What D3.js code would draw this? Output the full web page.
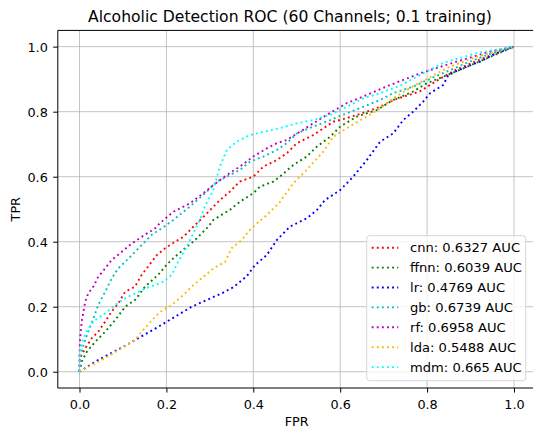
<!DOCTYPE html>
<html><head><meta charset="utf-8">
<script src="https://cdn.jsdelivr.net/npm/d3@7"></script>
<style>body{margin:0;background:#fff}svg{display:block;font-family:"DejaVu Sans",sans-serif}</style>
</head><body><svg id="c" width="533" height="430"></svg>
<script>
const title = "Alcoholic Detection ROC (60 Channels; 0.1 training)";
const ticks = [0.0, 0.2, 0.4, 0.6, 0.8, 1.0];
const names = ["cnn", "ffnn", "lr", "gb", "rf", "lda", "mdm"];
const aucs = ["0.6327", "0.6039", "0.4769", "0.6739", "0.6958", "0.5488", "0.665"];
const colors = ["#ff0000", "#008000", "#0000ff", "#00bfbf", "#bf00bf", "#ffb800", "#00ffff"];

const cnn = [[0,0],[0.001,0.041],[0.013,0.072],[0.028,0.103],[0.043,0.123],[0.059,0.154],[0.074,0.185],[0.089,0.21],[0.105,0.246],[0.128,0.262],[0.143,0.298],[0.166,0.338],[0.178,0.359],[0.197,0.38],[0.22,0.4],[0.239,0.415],[0.262,0.446],[0.293,0.487],[0.323,0.528],[0.346,0.554],[0.369,0.585],[0.4,0.6],[0.423,0.631],[0.454,0.651],[0.477,0.672],[0.5,0.703],[0.538,0.728],[0.584,0.769],[0.615,0.78],[0.661,0.8],[0.692,0.815],[0.722,0.836],[0.783,0.862],[0.822,0.895],[0.868,0.93],[0.93,0.965],[1,1]];
const ffnn = [[0,0],[0.005,0.031],[0.017,0.062],[0.036,0.092],[0.059,0.123],[0.082,0.159],[0.105,0.2],[0.128,0.221],[0.151,0.262],[0.181,0.298],[0.201,0.33],[0.22,0.354],[0.243,0.38],[0.266,0.405],[0.296,0.446],[0.308,0.467],[0.346,0.498],[0.369,0.523],[0.4,0.549],[0.415,0.569],[0.446,0.585],[0.461,0.6],[0.492,0.636],[0.523,0.662],[0.546,0.692],[0.577,0.723],[0.6,0.754],[0.638,0.785],[0.684,0.805],[0.722,0.836],[0.768,0.862],[0.799,0.887],[0.86,0.92],[0.93,0.96],[1,1]];
const lr = [[0,0],[0.036,0.031],[0.105,0.08],[0.181,0.138],[0.258,0.2],[0.327,0.241],[0.354,0.26],[0.385,0.294],[0.404,0.328],[0.431,0.359],[0.454,0.405],[0.484,0.446],[0.523,0.472],[0.546,0.497],[0.565,0.528],[0.6,0.559],[0.63,0.6],[0.661,0.651],[0.692,0.708],[0.722,0.733],[0.745,0.774],[0.768,0.8],[0.791,0.831],[0.807,0.857],[0.837,0.882],[0.849,0.913],[0.883,0.934],[0.922,0.954],[0.96,0.98],[1,1]];
const gb = [[0,0],[0.001,0.04],[0.009,0.082],[0.02,0.123],[0.032,0.164],[0.043,0.205],[0.059,0.246],[0.074,0.287],[0.089,0.318],[0.105,0.338],[0.128,0.369],[0.143,0.39],[0.166,0.421],[0.189,0.441],[0.216,0.467],[0.254,0.508],[0.293,0.554],[0.316,0.585],[0.346,0.605],[0.369,0.621],[0.392,0.646],[0.423,0.662],[0.454,0.682],[0.477,0.703],[0.5,0.733],[0.538,0.754],[0.577,0.774],[0.615,0.795],[0.653,0.815],[0.692,0.836],[0.722,0.857],[0.768,0.877],[0.83,0.915],[0.9,0.955],[0.95,0.98],[1,1]];
const rf = [[0,0],[0,0.02],[0,0.05],[0.001,0.097],[0.005,0.154],[0.009,0.185],[0.013,0.215],[0.02,0.241],[0.032,0.262],[0.043,0.292],[0.059,0.318],[0.074,0.344],[0.093,0.364],[0.116,0.39],[0.143,0.415],[0.174,0.441],[0.185,0.457],[0.216,0.492],[0.254,0.518],[0.285,0.549],[0.308,0.574],[0.339,0.605],[0.369,0.631],[0.4,0.662],[0.431,0.687],[0.454,0.703],[0.477,0.713],[0.507,0.738],[0.569,0.79],[0.615,0.826],[0.661,0.851],[0.715,0.882],[0.784,0.918],[0.868,0.954],[0.945,0.985],[1,1]];
const lda = [[0,0],[0.02,0.015],[0.051,0.036],[0.097,0.072],[0.128,0.098],[0.143,0.123],[0.174,0.169],[0.189,0.187],[0.212,0.205],[0.243,0.241],[0.258,0.262],[0.281,0.287],[0.308,0.318],[0.335,0.338],[0.35,0.38],[0.373,0.405],[0.392,0.436],[0.404,0.451],[0.431,0.482],[0.46,0.52],[0.492,0.58],[0.523,0.621],[0.561,0.677],[0.584,0.723],[0.615,0.749],[0.661,0.785],[0.692,0.81],[0.722,0.841],[0.753,0.867],[0.791,0.895],[0.852,0.938],[0.914,0.969],[1,1]];
const mdm = [[0,0],[0.001,0.062],[0.009,0.103],[0.02,0.133],[0.036,0.159],[0.059,0.18],[0.082,0.205],[0.105,0.226],[0.128,0.241],[0.151,0.256],[0.174,0.267],[0.193,0.277],[0.212,0.298],[0.227,0.338],[0.247,0.385],[0.277,0.467],[0.289,0.51],[0.308,0.559],[0.323,0.631],[0.339,0.682],[0.362,0.708],[0.392,0.728],[0.423,0.738],[0.461,0.749],[0.5,0.764],[0.538,0.774],[0.577,0.79],[0.615,0.815],[0.653,0.841],[0.692,0.857],[0.738,0.88],[0.791,0.918],[0.837,0.95],[0.914,0.98],[1,1]];
const series = [cnn, ffnn, lr, gb, rf, lda, mdm];

const svg = d3.select("#c");
const L = 57.8, R = 535.7, T = 30.4, B = 388;
const x = d3.scaleLinear().domain([-0.05, 1.05]).range([L, R]);
const y = d3.scaleLinear().domain([-0.05, 1.05]).range([B, T]);

// grid
const g = svg.append("g");
g.selectAll(".gx").data(ticks).join("line")
  .attr("x1", d => x(d)).attr("x2", d => x(d)).attr("y1", T).attr("y2", B)
  .attr("stroke", "#b0b0b0").attr("stroke-width", 1).attr("stroke-opacity", 0.75);
g.selectAll(".gy").data(ticks).join("line")
  .attr("y1", d => y(d)).attr("y2", d => y(d)).attr("x1", L).attr("x2", R)
  .attr("stroke", "#b0b0b0").attr("stroke-width", 1).attr("stroke-opacity", 0.75);

// axes
const fmt = d3.format(".1f");
const xa = svg.append("g").attr("transform", `translate(0,${B})`)
  .call(d3.axisBottom(x).tickValues(ticks).tickFormat(fmt).tickSizeOuter(0).tickSize(4.6).tickPadding(5));
const ya = svg.append("g").attr("transform", `translate(${L},0)`)
  .call(d3.axisLeft(y).tickValues(ticks).tickFormat(fmt).tickSizeOuter(0).tickSize(4.6).tickPadding(5));
[xa, ya].forEach(a => {
  a.select(".domain").remove();
  a.selectAll("text").attr("font-family", "DejaVu Sans").attr("font-size", 12.8).attr("fill", "#000");
  a.selectAll("line").attr("stroke", "#000").attr("stroke-width", 1);
});
xa.selectAll("text").attr("dy", null).attr("y", 20.5);
ya.selectAll("text").attr("dy", "0.36em").attr("x", -10);

// curves
const clip = svg.append("clipPath").attr("id", "clp").append("rect")
  .attr("x", L).attr("y", T).attr("width", R - L).attr("height", B - T);
const line = d3.line().x(d => x(d[0])).y(d => y(d[1]));
svg.append("g").attr("clip-path", "url(#clp)").selectAll("path").data(series).join("path")
  .attr("d", line).attr("fill", "none")
  .attr("stroke", (d, i) => colors[i]).attr("stroke-width", 1.9)
  .attr("stroke-dasharray", "1.9,3.2");

// spines
svg.append("line").attr("x1", L).attr("x2", L).attr("y1", T).attr("y2", B).attr("stroke", "#000").attr("stroke-width", 1);
svg.append("line").attr("x1", L).attr("x2", R).attr("y1", B).attr("y2", B).attr("stroke", "#000").attr("stroke-width", 1);
svg.append("line").attr("x1", L).attr("x2", R).attr("y1", T).attr("y2", T).attr("stroke", "#000").attr("stroke-width", 1);

// title & labels
svg.append("text").attr("x", 290).attr("y", 22).attr("text-anchor", "middle")
  .attr("font-size", 15.6).attr("fill", "#000").text(title);
svg.append("text").attr("x", (L + R) / 2).attr("y", 425.5).attr("text-anchor", "middle")
  .attr("font-size", 12.8).attr("fill", "#000").text("FPR");
svg.append("text").attr("transform", `translate(20,${(T + B) / 2}) rotate(-90)`).attr("text-anchor", "middle")
  .attr("font-size", 12.8).attr("fill", "#000").text("TPR");

// legend
const lg = svg.append("g");
lg.append("rect").attr("x", 366.7).attr("y", 235.7).attr("width", 159).attr("height", 145)
  .attr("rx", 3).attr("fill", "#fff").attr("fill-opacity", 0.8).attr("stroke", "#d6d6d6").attr("stroke-width", 1);
const items = lg.selectAll(".it").data(names).join("g")
  .attr("transform", (d, i) => `translate(0,${247.7 + i * 19.9})`);
items.append("line").attr("x1", 371.7).attr("x2", 398.3).attr("y1", 0).attr("y2", 0)
  .attr("stroke", (d, i) => colors[i]).attr("stroke-width", 1.9).attr("stroke-dasharray", "1.9,3.2");
items.append("text").attr("x", 410).attr("y", 4.6).attr("font-size", 13.1).attr("fill", "#000")
  .text((d, i) => `${d}: ${aucs[i]} AUC`);
</script></body></html>
